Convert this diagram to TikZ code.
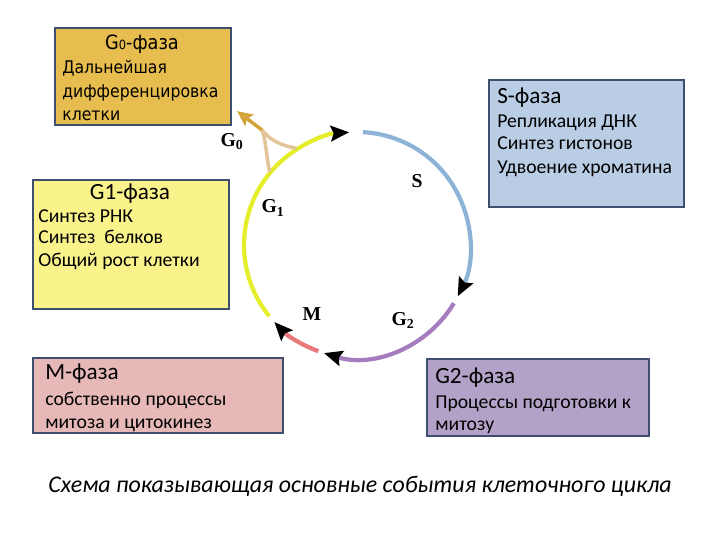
\documentclass[tikz,border=0pt]{standalone}
\usepackage{fontspec}
\setmainfont{Carlito}
\newfontfamily\zerofont[FakeStretch=0.9]{DejaVu Sans}
\newfontfamily\cyclefont{Liberation Serif}
\usetikzlibrary{arrows.meta,calc}
\definecolor{gzero}{HTML}{E8BD4F}
\definecolor{sfill}{HTML}{B9CDE5}
\definecolor{gone}{HTML}{FAF38C}
\definecolor{mfill}{HTML}{E6B9B8}
\definecolor{gtwo}{HTML}{B3A2C7}
\definecolor{boxline}{HTML}{3F4F6F}
\definecolor{ringY}{HTML}{E4EE2A}
\definecolor{ringS}{HTML}{8DB3D6}
\definecolor{ringG}{HTML}{A57DBE}
\definecolor{ringM}{HTML}{E8787A}
\definecolor{tan}{HTML}{E3C59A}
\definecolor{gold}{HTML}{D4A43A}
\begin{document}
\begin{tikzpicture}[x=0.025cm, y=0.025cm,
  box/.style={draw=boxline, line width=1.2pt, inner sep=0pt, outer sep=0pt, anchor=north west},
  txt/.style={anchor=base west, inner sep=0pt, font=\fontsize{14}{16}\selectfont},
  head/.style={anchor=base west, inner sep=0pt, font=\fontsize{16.5}{18}\selectfont},
  ztxt/.style={anchor=base west, inner sep=0pt, font=\zerofont\fontsize{12.4}{14}\selectfont},
  ring/.style={line width=3pt},
  tip/.style={-{Stealth[length=13pt, width=11pt, inset=2pt, black]}},
  lbl/.style={font=\cyclefont\bfseries\fontsize{14}{16}\selectfont}]
\useasboundingbox (0,0) rectangle (720,540);

% boxes
\node[box, fill=gzero, minimum width=4.4cm, minimum height=2.425cm] (g0box) at (55,512) {};
\node[box, fill=sfill, minimum width=4.875cm, minimum height=3.175cm] (sbox) at (489,460) {};
\node[box, fill=gone, minimum width=4.9cm, minimum height=3.225cm] (g1box) at (33,360) {};
\node[box, fill=mfill, minimum width=6.25cm, minimum height=1.875cm] (mbox) at (33,182) {};
\node[box, fill=gtwo, minimum width=5.55cm, minimum height=1.925cm] (g2box) at (427,181) {};

% G0
\node[ztxt, anchor=base, font=\zerofont\fontsize{14}{16}\selectfont] (g0head) at (142,490) {G{\fontsize{9}{9}\selectfont 0}-фаза};
\node[ztxt] (g0a) at (62,466) {Дальнейшая};
\node[ztxt] (g0b) at (62,442) {дифференцировка};
\node[ztxt] (g0c) at (62,419) {клетки};

% S
\node[head] (shead) at (497,436) {S-фаза};
\node[txt] (sa) at (497,412) {Репликация ДНК};
\node[txt] (sb) at (497,390) {Синтез гистонов};
\node[txt] (sc) at (497,366) {Удвоение хроматина};

% G1
\node[head, anchor=base] (g1head) at (130,341) {G1-фаза};
\node[txt] (g1a) at (38,317) {Синтез РНК};
\node[txt] (g1b) at (38,297) {Синтез\ \ белков};
\node[txt] (g1c) at (38,274) {Общий рост клетки};

% M
\node[head] (mhead) at (45,161) {M-фаза};
\node[txt] (ma) at (45,135) {собственно процессы};
\node[txt] (mb) at (45,112) {митоза и цитокинез};

% G2
\node[head] (g2head) at (435,157) {G2-фаза};
\node[txt] (g2a) at (435,132) {Процессы подготовки к};
\node[txt] (g2b) at (435,110) {митозу};

% cycle
\coordinate (c) at (357,295);
\draw[ring, ringY, tip] (c) ++(219:113) arc[start angle=219, end angle=94, radius=113];
\draw[ring, ringS, tip] (c) ++(87:113) arc[start angle=87, end angle=-27, radius=113];
\draw[ring, ringG, tip] (c) ++(-31:113) arc[start angle=-31, end angle=-107, radius=113];
\draw[ring, ringM, tip] (c) ++(-110:113) arc[start angle=-110, end angle=-137, radius=113];

% branch to G0
\coordinate (g0tip) at (237,429);
\coordinate (fork) at (262,410);
\draw[line width=2.5pt, tan] ($(c)+(122:114)$) .. controls (278,395) and (268,402) .. (fork);
\draw[line width=2.5pt, tan] ($(c)+(140:114)$) .. controls (266,385) and (266,400) .. (fork);
\draw[line width=2.5pt, gold, -{Stealth[length=11pt, width=10pt, inset=2pt, fill=gzero!60]}] (fork) -- (g0tip);

% labels
\node[lbl] (lg0) at (232,398) {G\textsubscript{0}};
\node[lbl] (ls) at (417,359) {S};
\node[lbl] (lg1) at (273,332) {G\textsubscript{1}};
\node[lbl] (lm) at (312,226) {M};
\node[lbl] (lg2) at (403,220) {G\textsubscript{2}};

% caption
\node[anchor=base, inner sep=0pt, font=\itshape\fontsize{17}{20}\selectfont] (caption) at (360,48) {Схема показывающая основные события клеточного цикла};
\end{tikzpicture}
\end{document}
